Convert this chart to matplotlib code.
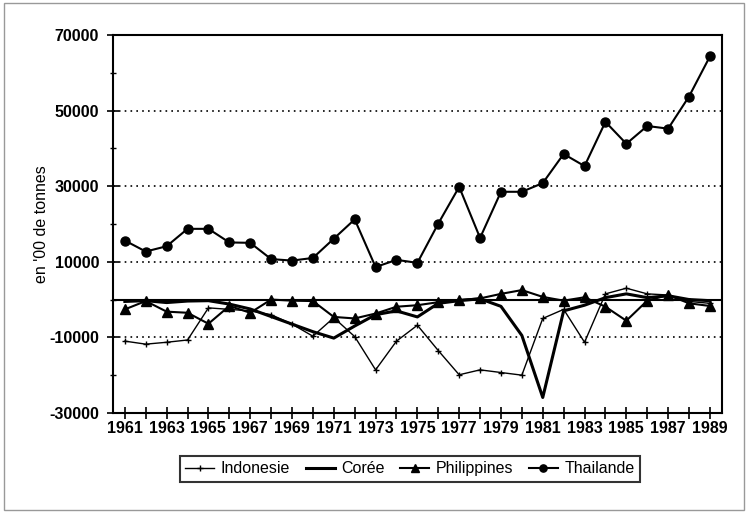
import numpy as np
import matplotlib.pyplot as plt
from matplotlib.patches import Rectangle

plt.rcParams['font.family'] = ['Liberation Sans', 'DejaVu Sans']
plt.rcParams['axes.unicode_minus'] = False

years = list(range(1961, 1990))

indonesie = [-11000, -11800, -11300, -10700, -2200, -2600, -3000, -4000, -6500, -9700,
             -4800, -9800, -18600, -11000, -6800, -13500, -19900, -18600, -19300, -20000,
             -5000, -2600, -11300, 1500, 3000, 1500, 1200, -500, -1000]
coree = [-500, -300, -800, -400, -300, -1200, -2500, -4500, -6500, -8500,
         -10200, -7000, -4000, -3000, -4600, -1000, -300, 200, -1800, -9500,
         -25900, -3000, -1500, 500, 1500, 500, 1000, 0, -300]
philippines = [-2600, -400, -3200, -3500, -6400, -1700, -3500, 0, -300, -400,
               -4600, -5000, -3700, -1900, -1500, -700, -100, 300, 1500, 2500,
               700, -300, 600, -1900, -5600, -300, 1200, -1000, -1700]
thailande = [15600, 12700, 14100, 18700, 18700, 15100, 15000, 10700, 10300, 11000,
             16100, 21200, 8600, 10500, 9700, 20100, 29800, 16300, 28500, 28500,
             30800, 38500, 35300, 47000, 41200, 45900, 45200, 53700, 64300]

fig = plt.figure(figsize=(7.48, 5.13), dpi=100)
ax = fig.add_axes([0.151, 0.195, 0.814, 0.737])

ax.plot(years, indonesie, color='black', lw=1.0, marker='+', ms=5, mew=1.0, label='Indonesie')
ax.plot(years, coree, color='black', lw=2.2, label='Corée')
ax.plot(years, philippines, color='black', lw=1.5, marker='^', ms=7.5, label='Philippines')
ax.plot(years, thailande, color='black', lw=1.5, marker='o', ms=6.5, label='Thailande')

ax.axhline(0, color='black', lw=1.5, zorder=1)
for g in [50000, 30000, 10000, -10000]:
    ax.axhline(g, color='black', lw=1.2, ls=(0, (1, 2.5)), zorder=0)

ax.set_xlim(1960.43, 1989.57)
ax.set_ylim(-30000, 70000)
ax.set_yticks(np.arange(-30000, 70001, 20000))
ax.set_yticks(np.arange(-20000, 60001, 20000), minor=True)
ax.set_xticks(years)
ax.set_xticklabels([str(y) if (y - 1961) % 2 == 0 else '' for y in years])
ax.tick_params(axis='both', which='major', direction='inout', length=8, width=1.2,
               labelsize=11.5)
ax.tick_params(axis='y', which='minor', direction='inout', length=5, width=1.0)
ax.tick_params(axis='x', pad=2)
ax.tick_params(axis='y', pad=6)
for lbl in ax.get_xticklabels() + ax.get_yticklabels():
    lbl.set_fontweight('bold')
for s in ax.spines.values():
    s.set_linewidth(1.5)

ax.set_ylabel("en '00 de tonnes", fontsize=11.5)
ax.yaxis.set_label_coords(-0.105, 0.5)

leg = fig.legend(loc='center', bbox_to_anchor=(0.548, 0.086), ncol=4, frameon=True,
                 fancybox=False, edgecolor='black', fontsize=11.5, handlelength=1.8,
                 columnspacing=1.0, handletextpad=0.4, borderpad=0.35, markerscale=0.8)
leg.get_frame().set_linewidth(1.5)

fig.patches.append(Rectangle((0.005, 0.006), 0.99, 0.988, transform=fig.transFigure,
                             fill=False, edgecolor='#999999', lw=1.0))

fig.savefig('out.png', dpi=100)
